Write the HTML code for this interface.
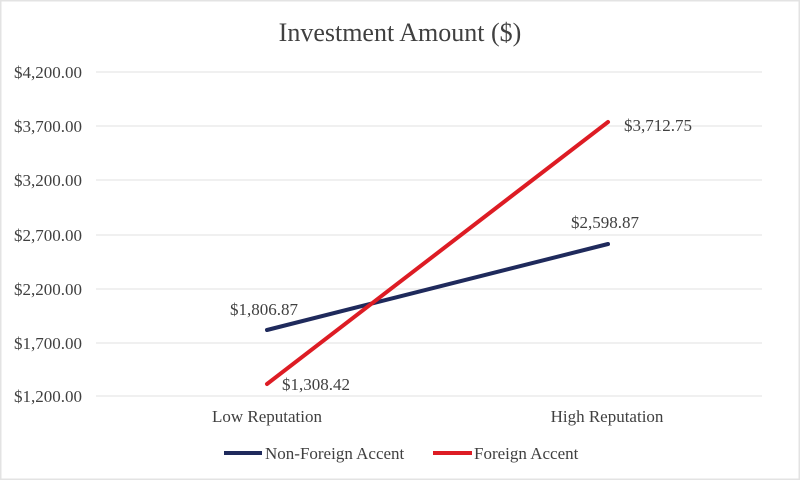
<!DOCTYPE html>
<html><head><meta charset="utf-8"><style>
html,body{margin:0;padding:0;background:#fff}
svg{display:block}
text{font-family:"Liberation Serif",serif;fill:#404040}
</style></head><body>
<svg width="800" height="480" viewBox="0 0 800 480">
<rect x="0.5" y="0.5" width="799" height="479" fill="#fff" stroke="#e3e3e3" stroke-width="2"/>
<text x="400" y="41" font-size="26" text-anchor="middle" fill="#595959">Investment Amount ($)</text>
<g stroke="#ececec" stroke-width="1.5">
<line x1="96" y1="72" x2="762" y2="72"/>
<line x1="96" y1="126" x2="762" y2="126"/>
<line x1="96" y1="180" x2="762" y2="180"/>
<line x1="96" y1="235" x2="762" y2="235"/>
<line x1="96" y1="289" x2="762" y2="289"/>
<line x1="96" y1="343" x2="762" y2="343"/>
<line x1="96" y1="396" x2="762" y2="396"/>
</g>
<g font-size="17" text-anchor="end">
<text x="82" y="78">$4,200.00</text>
<text x="82" y="132">$3,700.00</text>
<text x="82" y="186">$3,200.00</text>
<text x="82" y="241">$2,700.00</text>
<text x="82" y="295">$2,200.00</text>
<text x="82" y="349">$1,700.00</text>
<text x="82" y="402">$1,200.00</text>
</g>
<g font-size="17" text-anchor="middle">
<text x="267" y="422">Low Reputation</text>
<text x="607" y="422">High Reputation</text>
</g>
<line x1="267" y1="330" x2="608" y2="244" stroke="#1f2a5c" stroke-width="4" stroke-linecap="round"/>
<line x1="267" y1="384" x2="608" y2="122" stroke="#dd1c24" stroke-width="4" stroke-linecap="round"/>
<g font-size="17">
<text x="230" y="315" fill="#262626">$1,806.87</text>
<text x="282" y="390" fill="#262626">$1,308.42</text>
<text x="571" y="228" fill="#262626">$2,598.87</text>
<text x="624" y="131" fill="#262626">$3,712.75</text>
</g>
<line x1="224" y1="453" x2="262" y2="453" stroke="#1f2a5c" stroke-width="4"/>
<text x="265" y="459" font-size="17">Non-Foreign Accent</text>
<line x1="433" y1="453" x2="472" y2="453" stroke="#dd1c24" stroke-width="4"/>
<text x="474" y="459" font-size="17">Foreign Accent</text>
</svg>
</body></html>
